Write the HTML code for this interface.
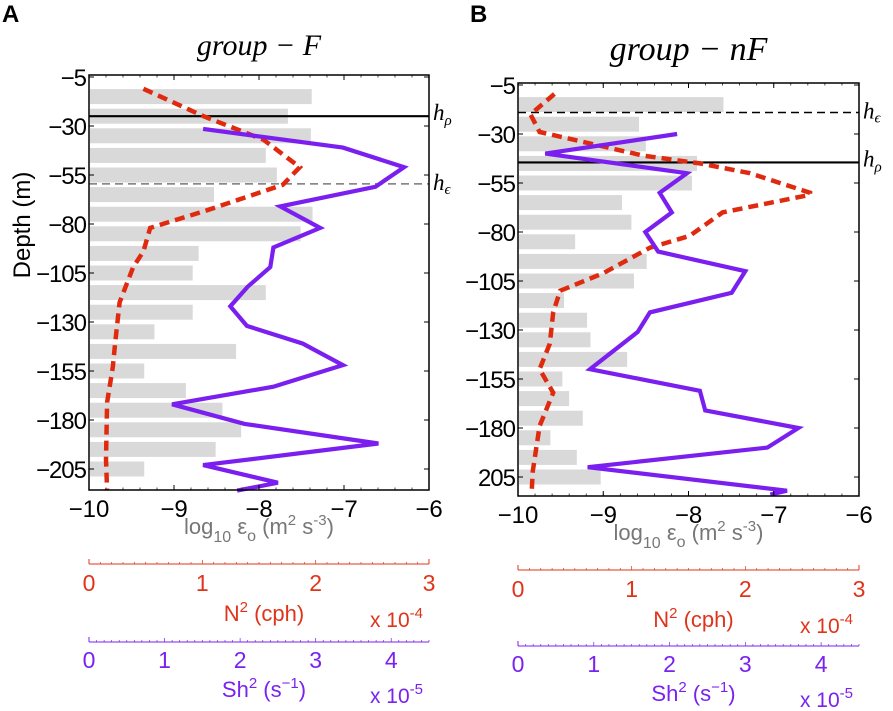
<!DOCTYPE html>
<html><head><meta charset="utf-8">
<style>
body{margin:0;background:#fff;}
svg{display:block;font-family:"Liberation Sans",sans-serif;}
</style></head>
<body>
<svg id="chart" width="893" height="711" viewBox="0 0 893 711" xmlns="http://www.w3.org/2000/svg"></svg>
<script>
// ---- data ----
const depthTicks = [-5,-30,-55,-80,-105,-130,-155,-180,-205];
const depthTickLabelsA = ["−5","−30","−55","−80","−105","−130","−155","−180","−205"];
const depthTickLabelsB = ["−5","−30","−55","−80","−105","−130","−155","−180","205"];
const epsTicks = [-10,-9,-8,-7,-6];
const n2Ticks = [0,1,2,3];
const sh2Ticks = [0,1,2,3,4];
const barDepths = [-15,-25,-35,-45,-55,-65,-75,-85,-95,-105,-115,-125,-135,-145,-155,-165,-175,-185,-195,-205];
const epsA = [-7.38,-7.66,-7.39,-7.92,-7.79,-8.53,-7.37,-7.51,-8.71,-8.78,-7.92,-8.78,-9.23,-8.27,-9.35,-8.86,-8.43,-8.21,-8.51,-9.35];
const epsB = [-7.59,-8.58,-8.50,-7.90,-7.96,-8.78,-8.67,-9.33,-8.49,-8.64,-9.46,-9.19,-9.15,-8.72,-9.48,-9.40,-9.24,-9.62,-9.31,-9.03];
const n2DepthA = [-11,-25,-37,-51,-60,-73,-82,-94,-102,-120,-141,-153,-171,-200,-216];
const n2A = [0.48,1.01,1.54,1.86,1.71,1.04,0.54,0.48,0.39,0.27,0.23,0.21,0.16,0.15,0.16];
const sh2DepthA = [-31.5,-41,-51,-61,-71,-82,-92,-102,-112,-122,-132,-141,-152,-163,-172,-182,-192,-203,-212,-216];
const sh2A = [1.51,3.36,4.17,3.79,2.53,3.06,2.44,2.40,2.10,1.87,2.09,2.83,3.36,2.44,1.10,2.06,3.83,1.51,2.50,1.96];
const n2DepthB = [-9.6,-20,-29,-34,-41,-45,-50,-60,-61,-70,-82,-88,-101,-110,-121,-137,-150,-162,-179,-202,-213];
const n2B = [0.32,0.11,0.19,0.57,1.10,1.60,2.04,2.57,2.57,1.80,1.51,1.16,0.75,0.37,0.31,0.28,0.19,0.31,0.19,0.13,0.12];
const sh2DepthB = [-30,-40,-50,-60,-70,-80,-90,-100,-111,-121,-131,-150,-161,-171,-180,-190,-200,-212,-214];
const sh2B = [2.10,0.36,2.23,1.87,2.03,1.68,1.85,3.00,2.82,1.74,1.58,0.95,2.40,2.47,3.70,3.29,0.92,3.55,3.33];
const hRhoA = -25, hEpsA = -59.5, hEpsB = -19, hRhoB = -44.5;

const NS="http://www.w3.org/2000/svg";
const svg=document.getElementById('chart');
function mk(tag,attrs,parent,text){const e=document.createElementNS(NS,tag);for(const k in attrs)e.setAttribute(k,attrs[k]);if(text!==undefined)e.textContent=text;(parent||svg).appendChild(e);return e;}

function panel(cfg){
  const g=mk('g',{});
  
  
  const L=cfg.x0,R=cfg.x1,T=cfg.y0,B=cfg.y1;
  const yS=d=>cfg.yRef+(cfg.dRef-d)*1.96;
  const xE=v=>L+(v+10)/4*(R-L);
  const xN=v=>L+v/3*(R-L);
  const xS=v=>L+v/4.5*(R-L);
  cfg.eps.forEach((v,i)=>{
    const r=mk('rect',{x:L+1,y:yS(barDepths[i])-7.5,width:xE(v)-L-1,height:15,fill:'#d9d9d9'},g);
    
    
  });
  const hr=mk('line',{x1:L,x2:R,y1:yS(cfg.hRho),y2:yS(cfg.hRho),stroke:'#000','stroke-width':2.2},g);
  
  
  const he=mk('line',{x1:L,x2:R,y1:yS(cfg.hEps),y2:yS(cfg.hEps),stroke:cfg.epsColor,'stroke-width':1.5,'stroke-dasharray':'8,5'},g);
  
  
  const t1=mk('text',{x:R+4,y:yS(cfg.hRho)+4,'font-family':'Liberation Serif,serif','font-style':'italic','font-size':23},g);
  
  
  t1.innerHTML='h<tspan font-size="15" dy="5">ρ</tspan>';
  const t2=mk('text',{x:R+4,y:yS(cfg.hEps)+6,'font-family':'Liberation Serif,serif','font-style':'italic','font-size':23},g);
  
  
  t2.innerHTML='h<tspan font-size="15" dy="4">ϵ</tspan>';
  const rp=cfg.n2.map((v,i)=>xN(v).toFixed(1)+','+yS(cfg.n2d[i]).toFixed(1)).join(' ');
  const rl=mk('polyline',{points:rp,fill:'none',stroke:'#e02a10','stroke-width':4.5,'stroke-dasharray':'10,6'},g);
  
  
  const pp=cfg.sh2.map((v,i)=>xS(v).toFixed(1)+','+yS(cfg.sh2d[i]).toFixed(1)).join(' ');
  const pl=mk('polyline',{points:pp,fill:'none',stroke:'#7a1ff0','stroke-width':4.2,'stroke-linejoin':'miter'},g);
  
  
  const fr=mk('rect',{x:L,y:T,width:R-L,height:B-T,fill:'none',stroke:'#000','stroke-width':1.5},g);
  
  
  depthTicks.forEach((d,i)=>{
    const y=yS(d);
    mk('line',{x1:L,x2:L+5,y1:y,y2:y,stroke:'#000'},g);
    mk('line',{x1:R,x2:R-5,y1:y,y2:y,stroke:'#000'},g);
    const t=mk('text',{x:L-3,y:y+9,'text-anchor':'end','font-size':24,'letter-spacing':'-1',fill:'#000'},g,cfg.yLabels[i]);
    
    
  });
  epsTicks.forEach(v=>{
    const x=xE(v);
    mk('line',{x1:x,x2:x,y1:B,y2:B-5,stroke:'#000'},g);
    mk('line',{x1:x,x2:x,y1:T,y2:T+5,stroke:'#000'},g);
    const t=mk('text',{x:x,y:B+27,'text-anchor':'middle','font-size':24,fill:'#000'},g,v===-10?'−10':'−'+Math.abs(v));
    
    
  });
  for(let v=-10;v<=-6.001;v+=0.2){const x=xE(v);mk('line',{x1:x,x2:x,y1:B,y2:B-2.5,stroke:'#000','stroke-width':0.7},g);mk('line',{x1:x,x2:x,y1:T,y2:T+2.5,stroke:'#000','stroke-width':0.7},g);}
  const xl=mk('text',{x:(L+R)/2,y:B+44,'text-anchor':'middle','font-size':22,fill:'#777'},g);
  
  
  xl.innerHTML='log<tspan font-size="16" dy="8">10</tspan><tspan dy="-8"> ε</tspan><tspan font-size="16" dy="7">o</tspan><tspan dy="-7"> (m</tspan><tspan font-size="15" dy="-9">2</tspan><tspan dy="9"> s</tspan><tspan font-size="15" dy="-9">-3</tspan><tspan dy="9">)</tspan>';
  const ry=cfg.n2AxisY, red='#e0341a';
  const ra=mk('line',{x1:L,x2:R,y1:ry,y2:ry,stroke:red,'stroke-width':1},g);
  
  
  mk('line',{x1:L,x2:L,y1:ry-5,y2:ry,stroke:red},g);mk('line',{x1:R,x2:R,y1:ry-5,y2:ry,stroke:red},g);
  for(let v=0;v<=3.001;v+=0.1){mk('line',{x1:xN(v),x2:xN(v),y1:ry,y2:ry-(Math.abs(v-Math.round(v))<0.01?4:2),stroke:red,'stroke-width':0.7},g);}
  n2Ticks.forEach(v=>{const t=mk('text',{x:xN(v),y:ry+27,'text-anchor':'middle','font-size':23,fill:red},g,String(v));});
  const nt=mk('text',{x:(L+R)/2+5,y:ry+57,'text-anchor':'middle','font-size':22,fill:red},g);
  
  nt.innerHTML='N<tspan font-size="15" dy="-9">2</tspan><tspan dy="9"> (cph)</tspan>';
  const ne=mk('text',{x:R-6,y:ry+63,'text-anchor':'end','font-size':21,fill:red},g);
  
  ne.innerHTML='x 10<tspan font-size="15" dy="-9">-4</tspan>';
  const py=cfg.shAxisY, pur='#7a22f0';
  const pa=mk('line',{x1:L,x2:R,y1:py,y2:py,stroke:pur,'stroke-width':1},g);
  
  mk('line',{x1:L,x2:L,y1:py-5,y2:py,stroke:pur},g);
  for(let v=0;v<=4.501;v+=0.1){mk('line',{x1:xS(v),x2:xS(v),y1:py,y2:py-(Math.abs(v-Math.round(v))<0.01?4:2),stroke:pur,'stroke-width':0.7},g);}
  sh2Ticks.forEach(v=>{const t=mk('text',{x:xS(v),y:py+26,'text-anchor':'middle','font-size':23,fill:pur},g,String(v));});
  const st=mk('text',{x:(L+R)/2+5,y:py+55,'text-anchor':'middle','font-size':22,fill:pur},g);
  
  st.innerHTML='Sh<tspan font-size="15" dy="-9">2</tspan><tspan dy="9"> (s</tspan><tspan font-size="15" dy="-9">−1</tspan><tspan dy="9">)</tspan>';
  const se=mk('text',{x:R-6,y:py+61,'text-anchor':'end','font-size':21,fill:pur},g);
  
  se.innerHTML='x 10<tspan font-size="15" dy="-9">-5</tspan>';
  const ti=mk('text',{x:(L+R)/2,y:cfg.titleY,'text-anchor':'middle','font-family':'Liberation Serif,serif','font-style':'italic','font-size':cfg.titleSize},g,cfg.title);
  
  const pl2=mk('text',{x:cfg.letterX,y:22,'font-size':24,'font-weight':'bold'},g,cfg.letter);
  
}

panel({name:'panel-a',x0:89,x1:429,y0:75,y1:490,yRef:77,dRef:-5,eps:epsA,n2:n2A,n2d:n2DepthA,sh2:sh2A,sh2d:sh2DepthA,
  hRho:hRhoA,hEps:hEpsA,epsColor:'#777',yLabels:depthTickLabelsA,n2AxisY:564,shAxisY:642,title:'group − F',titleY:55,titleSize:30,letter:'A',letterX:2});
panel({name:'panel-b',x0:518,x1:859,y0:83,y1:496,yRef:85,dRef:-5,eps:epsB,n2:n2B,n2d:n2DepthB,sh2:sh2B,sh2d:sh2DepthB,
  hRho:hRhoB,hEps:hEpsB,epsColor:'#000',yLabels:depthTickLabelsB,n2AxisY:570,shAxisY:646,title:'group − nF',titleY:60,titleSize:34,letter:'B',letterX:470});

const yt=mk('text',{x:0,y:0,transform:'translate(30,225) rotate(-90)','text-anchor':'middle','font-size':24},svg,'Depth (m)');


</script>
</body></html>
